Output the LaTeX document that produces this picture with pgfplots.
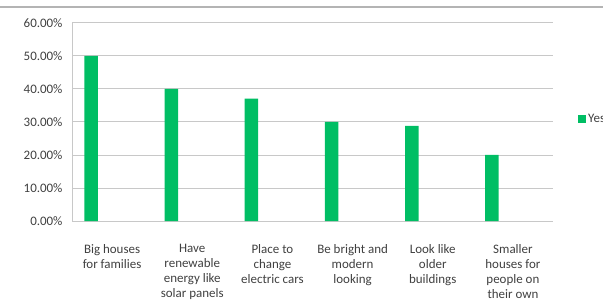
\documentclass[border=0pt]{standalone}
\usepackage{pgfplots}
\pgfplotsset{compat=1.18}
\usepackage{fontspec}
\setmainfont{Carlito}
\definecolor{bargreen}{RGB}{0,190,100}
\definecolor{gridgray}{RGB}{200,200,200}
\begin{document}
\begin{tikzpicture}[x=1bp,y=1bp]
\path[use as bounding box] (0,0) rectangle (603,303);
\draw[color=gridgray!90!black, line width=1.5bp] (0,296) -- (603,296);
\begin{axis}[
  at={(72bp,82bp)}, anchor=south west,
  scale only axis, width=481bp, height=198.3bp,
  xmin=-0.5, xmax=5.5, ymin=0, ymax=60,
  axis x line=bottom, axis y line=left,
  axis line style={gridgray, -},
  ymajorgrids, grid style={gridgray, line width=0.8bp},
  ytick={0,10,20,30,40,50,60},
  yticklabels={0.00\%,10.00\%,20.00\%,30.00\%,40.00\%,50.00\%,60.00\%},
  xtick={0,1,2,3,4,5},
  xticklabels={{Big houses\\for families},{Have\\renewable\\energy like\\solar panels},{Place to\\change\\electric cars},{Be bright and\\modern\\looking},{Look like\\older\\buildings},{Smaller\\houses for\\people on\\their own}},
  major tick length=0pt,
  tick label style={font=\fontsize{13}{15}\selectfont, color=black!75},
  xticklabel style={align=center, anchor=north, yshift=-20bp},
  yticklabel style={xshift=-6bp},
  ybar, bar width=13.5bp, bar shift=-21bp,
  legend style={at={(1.052,0.514)}, anchor=west, draw=none, fill=none,
    font=\fontsize{13}{15}\selectfont, text=black!75, inner sep=0pt},
  legend image code/.code={\fill[bargreen] (0bp,-4bp) rectangle (8bp,4bp);},
  legend cell align=left,
  clip=false,
]
\addplot[draw=none, fill=bargreen] coordinates {(0,50) (1,40) (2,37) (3,30) (4,28.8) (5,20)};
\addlegendentry{Yes}
\end{axis}
\end{tikzpicture}
\end{document}
